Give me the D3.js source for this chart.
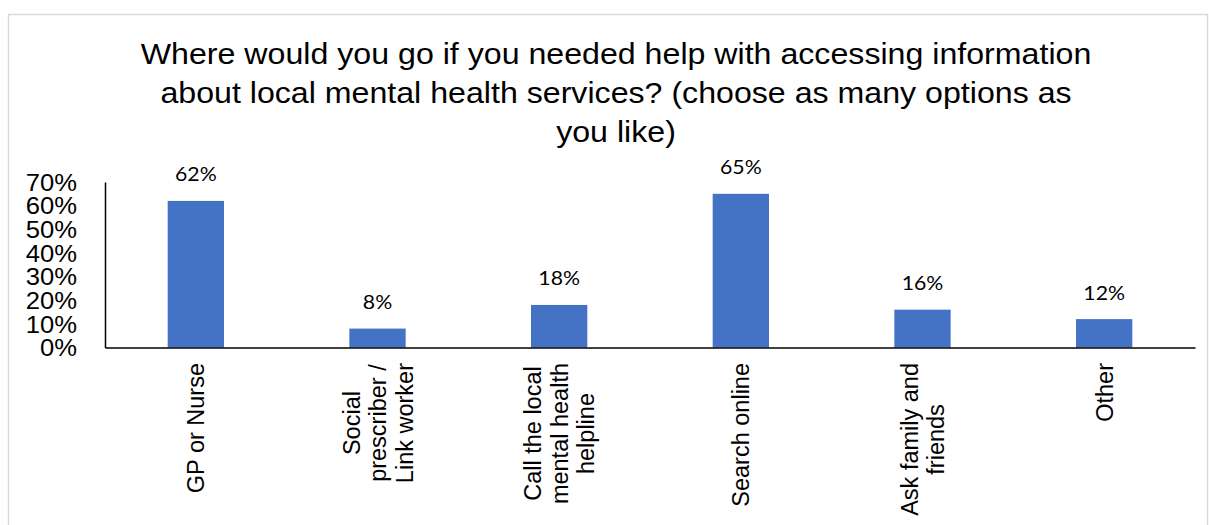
<!DOCTYPE html>
<html>
<head>
<meta charset="utf-8">
<script src="https://cdn.jsdelivr.net/npm/d3@7"></script>
<style>
  html, body { margin: 0; padding: 0; background: #fff; }
  svg { display: block; }
</style>
</head>
<body>
<svg id="chart" width="1209" height="525"></svg>
<script>
// Survey responses: where people would go for help finding local mental health services
const categories = [
  ["GP or Nurse"],
  ["Social", "prescriber /", "Link worker"],
  ["Call the local", "mental health", "helpline"],
  ["Search online"],
  ["Ask family and", "friends"],
  ["Other"]
];
const values = [0.62, 0.08, 0.18, 0.65, 0.16, 0.12];
const yTicks = [0, 0.1, 0.2, 0.3, 0.4, 0.5, 0.6, 0.7];
const titleLines = [
  "Where would you go if you needed help with accessing information",
  "about local mental health services? (choose as many options as",
  "you like)"
];

const svg = d3.select("#chart");
const W = 1209;
const margin = { left: 105, right: 14, top: 182, baseline: 347.5 };
const sx = 1.09; // slightly wide lettering for horizontal text
const sans = "Liberation Sans, Arial, sans-serif";

// chart frame
svg.append("rect")
  .attr("x", 8.5).attr("y", 14.5)
  .attr("width", 1199).attr("height", 520)
  .attr("fill", "#fff")
  .attr("stroke", "#d9d9d9")
  .attr("stroke-width", 1.5);

// title
svg.append("g").selectAll("text")
  .data(titleLines)
  .join("text")
  .attr("transform", (d, i) => `translate(616,${64 + i * 39}) scale(${sx},1)`)
  .attr("text-anchor", "middle")
  .attr("font-family", sans)
  .attr("font-size", 29.5)
  .attr("fill", "#000")
  .text(d => d);

const x = d3.scaleBand()
  .domain(d3.range(categories.length))
  .range([margin.left, W - margin.right])
  .paddingInner(0.69)
  .paddingOuter(0.345);

const y = d3.scaleLinear()
  .domain([0, 0.7])
  .range([margin.baseline, margin.top]);

// bars
svg.append("g").selectAll("rect")
  .data(values)
  .join("rect")
  .attr("x", (d, i) => x(i))
  .attr("y", d => y(d))
  .attr("width", x.bandwidth())
  .attr("height", d => y(0) - y(d))
  .attr("fill", "#4472C4");

// value labels
svg.append("g").selectAll("text")
  .data(values)
  .join("text")
  .attr("transform", (d, i) => `translate(${x(i) + x.bandwidth() / 2},${y(d) - 19.5}) scale(${sx},1)`)
  .attr("text-anchor", "middle")
  .attr("font-family", "Lato, Open Sans, sans-serif")
  .attr("font-size", 19.5)
  .attr("fill", "#000")
  .text(d => d3.format(".0%")(d));

// y axis
const yAxis = d3.axisLeft(y)
  .tickValues(yTicks)
  .tickFormat(d3.format(".0%"))
  .tickSize(0);
const gy = svg.append("g")
  .attr("transform", `translate(${margin.left},0)`)
  .call(yAxis);
gy.select(".domain").attr("stroke", "#000").attr("stroke-width", 1.5);
gy.selectAll(".tick text")
  .attr("x", -28 / sx)
  .attr("dy", "0.35em")
  .attr("transform", `scale(${sx},1)`)
  .attr("font-family", sans)
  .attr("font-size", 23.5)
  .attr("fill", "#000");

// x axis line
const xAxis = d3.axisBottom(x).tickSize(0).tickFormat("");
const gx = svg.append("g")
  .attr("transform", `translate(0,${margin.baseline})`)
  .call(xAxis);
gx.select(".domain").attr("stroke", "#000").attr("stroke-width", 1.5);

// rotated category labels, lines centred on each other, block top aligned below axis
const labelTop = 363;
const lineGap = 26.5;
const cats = svg.append("g").selectAll("g")
  .data(categories)
  .join("g");
cats.each(function (lines, i) {
  const g = d3.select(this);
  const texts = g.selectAll("text")
    .data(lines)
    .join("text")
    .attr("font-family", sans)
    .attr("font-size", 23.5)
    .attr("fill", "#000")
    .attr("text-anchor", "middle")
    .text(d => d);
  let maxW = 0;
  texts.each(function () { maxW = Math.max(maxW, this.getComputedTextLength()); });
  const cx = x(i) + x.bandwidth() / 2;
  const n = lines.length;
  const cy = labelTop + maxW / 2;
  texts.attr("transform", (d, j) => {
    const off = (j - (n - 1) / 2) * lineGap;
    return `translate(${cx + off + 8.5},${cy}) rotate(-90)`;
  });
});
</script>
</body>
</html>
